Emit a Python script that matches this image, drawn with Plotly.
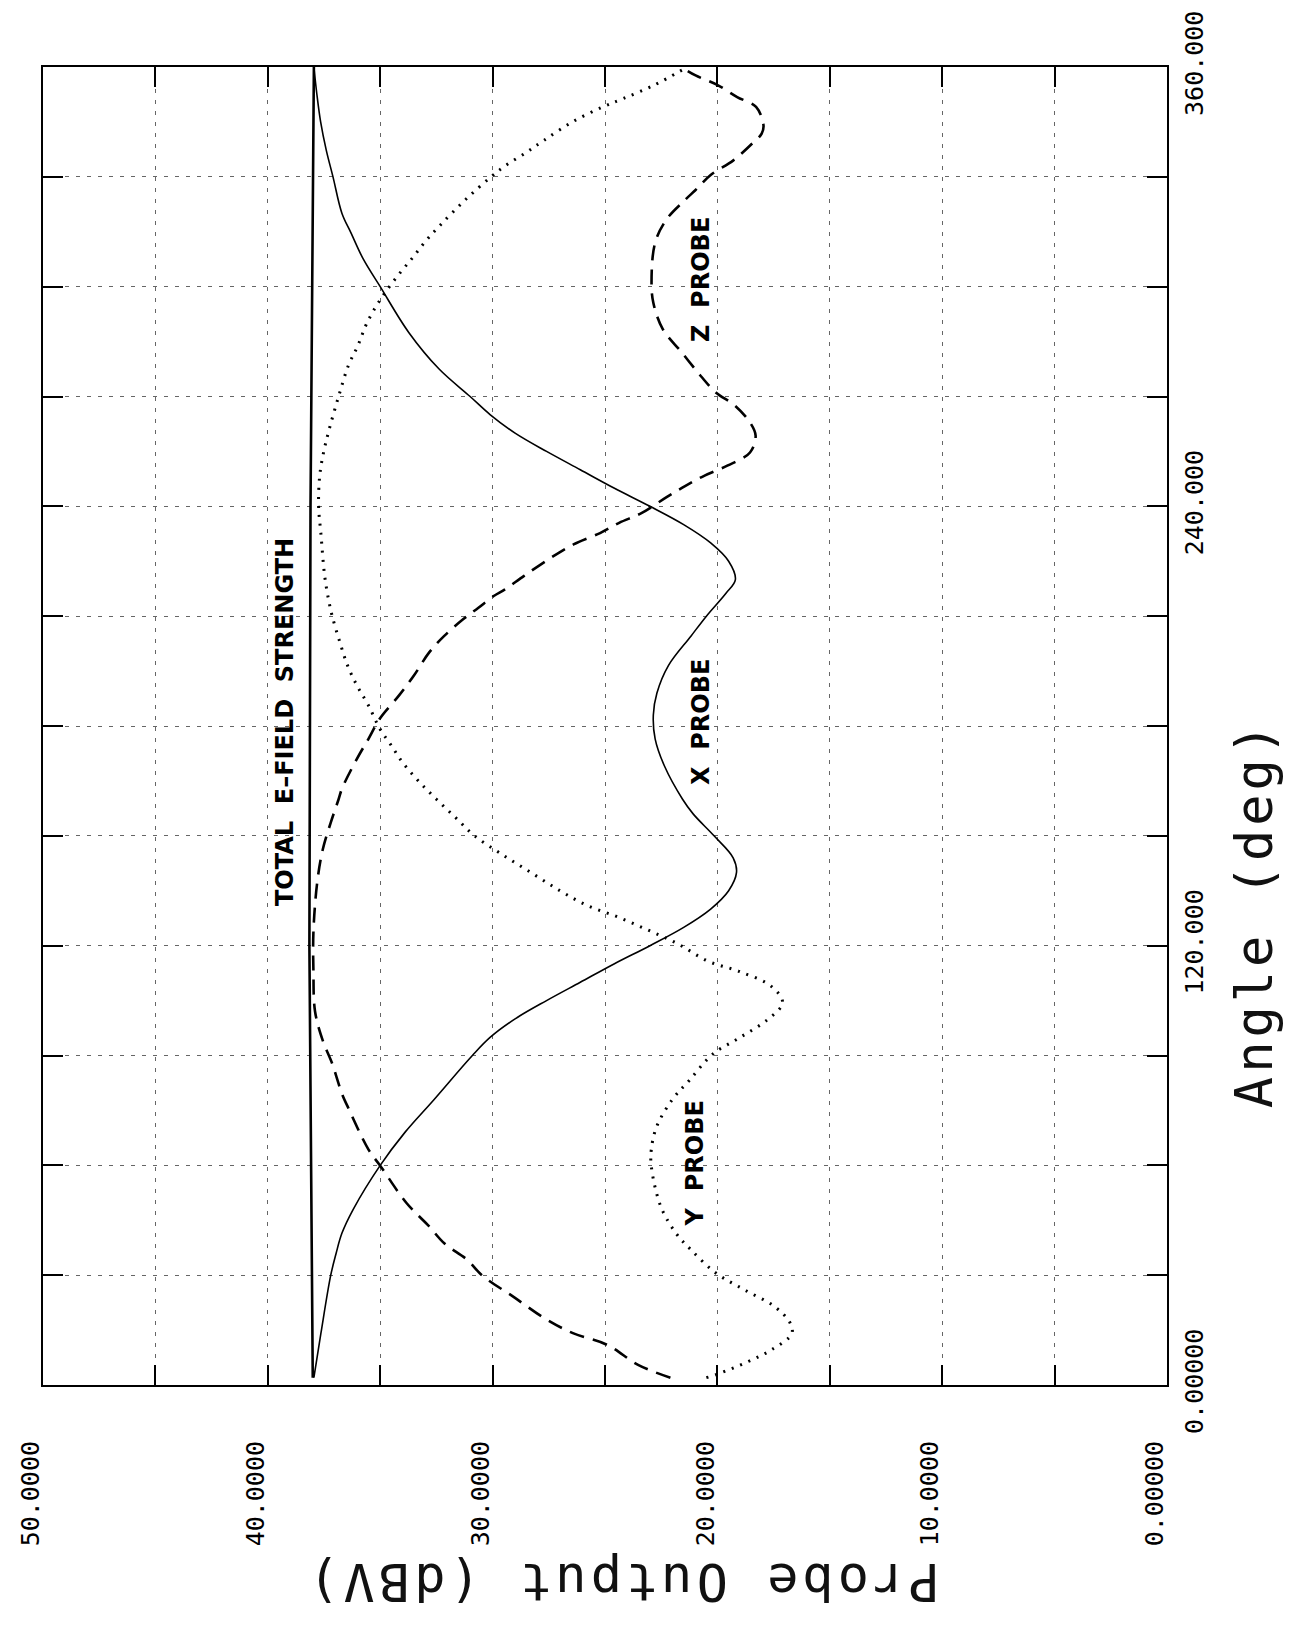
import plotly.graph_objects as go

# ---------------- data (angle in degrees, probe output in dBV) ----------------
total_angle = [2, 120, 240, 360]
total_db = [38.0, 38.15, 38.1, 37.95]

x_angle = [2, 14, 30, 36, 41.5, 48, 60, 69, 78, 90, 95, 100, 105, 110, 115, 120, 125, 130, 135,
           140, 144, 150, 156, 160, 169, 176.5, 183, 189, 196.5, 204.6, 210, 216.4, 220, 225,
           230, 235, 240, 245, 250, 255, 260, 265, 270, 277.5, 287.5, 300, 307.5, 314.7, 320,
           330, 337.3, 345, 352.7, 360]
x_db = [37.95, 37.64, 37.2, 36.96, 36.7, 36.2, 35.0, 33.9, 32.6, 30.9, 30.1, 29.0, 27.6, 26.1,
        24.6, 23.0, 21.5, 20.3, 19.5, 19.15, 19.3, 20.15, 21.08, 21.55, 22.35, 22.77, 22.85,
        22.69, 22.18, 21.17, 20.49, 19.6, 19.2, 19.5, 20.3, 21.5, 23.0, 24.6, 26.1, 27.6, 29.0,
        30.1, 31.0, 32.38, 33.73, 35.0, 35.75, 36.3, 36.7, 37.1, 37.4, 37.65, 37.82, 37.95]

y_angle = [2, 3, 6.4, 9.6, 14, 17, 21.4, 26, 30.6, 36.9, 41.5, 48.8, 59.7, 64.3, 70.6, 78, 83.2,
           90.4, 94.9, 99.9, 104.4, 108.9, 113, 115.7, 120.5, 124.3, 127.9, 131, 135, 140, 145,
           150, 155, 160, 165, 170, 174.7, 179.3, 185.6, 191, 196.5, 202.8, 209.9, 214.6, 221,
           232.7, 240, 248.4, 254.7, 261, 270, 278.4, 283.8, 290.2, 296.5, 302.9, 307.9, 312.5,
           317, 323.8, 330, 333.2, 336.8, 340, 345, 349.1, 351.4, 355, 359.5]
y_db = [20.49, 19.98, 18.63, 17.6, 16.69, 16.77, 17.45, 18.8, 20.07, 21.17, 21.85, 22.52, 22.94,
        22.94, 22.7, 22.0, 21.25, 20.2, 19.0, 17.75, 17.1, 17.6, 19.05, 20.4, 21.76, 23.1, 24.46,
        25.8, 27.0, 28.3, 29.6, 30.8, 31.65, 32.5, 33.3, 34.0, 34.51, 35.02, 35.52, 36.03, 36.45,
        36.79, 37.13, 37.3, 37.47, 37.64, 37.74, 37.69, 37.52, 37.27, 36.85, 36.42, 36.0, 35.58,
        34.99, 34.23, 33.56, 32.97, 32.3, 31.2, 30.07, 29.39, 28.47, 27.71, 26.45, 25.1, 24.18,
        22.83, 21.48]

z_angle = [2, 5.5, 10.9, 14.1, 17.8, 24.2, 29.9, 34.2, 38.7, 43.3, 49.7, 59.9, 64.3, 76.1, 79.5,
           87.7, 94, 102.1, 113, 123.8, 137.4, 146.4, 153.6, 160, 162.9, 171.1, 176.5, 182, 188.3,
           193.8, 200.1, 204.6, 209.2, 212.3, 215.5, 217.3, 221, 225.9, 229.6, 232.7, 235.5,
           238.2, 242.5, 245.6, 248.4, 251.1, 254.7, 259.3, 262.9, 267.5, 271.1, 275.6, 282,
           288.4, 295.6, 301.1, 312, 318.4, 323.8, 326.4, 330.5, 334.5, 339.1, 341.8, 344.1,
           349.1, 351.8, 355, 357.7, 359.5]
z_db = [22.09, 23.53, 24.88, 26.4, 27.58, 29.1, 30.46, 31.13, 32.15, 32.82, 33.83, 35.0, 35.52,
        36.45, 36.7, 37.13, 37.55, 37.9, 37.97, 37.97, 37.8, 37.55, 37.2, 36.85, 36.7, 36.03,
        35.52, 35.02, 34.17, 33.5, 32.82, 32.15, 31.3, 30.63, 29.95, 29.45, 28.6, 27.42, 26.4,
        25.22, 24.37, 23.36, 22.26, 21.42, 20.57, 19.56, 18.55, 18.3, 18.55, 19.22, 20.07, 20.74,
        21.58, 22.43, 22.85, 22.93, 22.77, 22.26, 21.42, 20.97, 20.3, 19.29, 18.45, 18.03, 17.95,
        18.28, 19.12, 19.97, 20.97, 21.48]

db_tick_vals = [0, 5, 10, 15, 20, 25, 30, 35, 40, 45, 50]
db_tick_text = ["0.00000", "", "10.0000", "", "20.0000", "", "30.0000", "", "40.0000", "", "50.0000"]
angle_tick_vals = [0, 30, 60, 90, 120, 150, 180, 210, 240, 270, 300, 330, 360]
angle_tick_text = ["0.00000", "", "", "", "120.000", "", "", "", "240.000", "", "", "", "360.000"]

curve_labels = ["TOTAL  E\u2013FIELD  STRENGTH", "X  PROBE", "Y  PROBE", "Z  PROBE"]
label_db = [39.2, 20.7, 21.0, 20.7]
label_angle = [181, 181, 60.5, 302]

# ---------------- figure ----------------
fig = go.Figure()
fig.add_trace(go.Scatter(x=total_db, y=total_angle, mode="lines",
                         line=dict(color="black", width=2.6), name="total"))
fig.add_trace(go.Scatter(x=x_db, y=x_angle, mode="lines", line_shape="spline",
                         line=dict(color="black", width=1.6), name="x"))
fig.add_trace(go.Scatter(x=y_db, y=y_angle, mode="lines", line_shape="spline",
                         line=dict(color="black", width=3, dash="2px,7px"), name="y"))
fig.add_trace(go.Scatter(x=z_db, y=z_angle, mode="lines", line_shape="spline",
                         line=dict(color="black", width=2.6, dash="15px,9px"), name="z"))

tick_font = dict(family="DejaVu Sans Mono", size=25, color="black")
fig.update_xaxes(range=[50, 0], tickmode="array", tickvals=db_tick_vals, ticktext=db_tick_text,
                 tickangle=-90, tickfont=tick_font, ticks="inside", ticklen=20, tickwidth=1.5,
                 tickcolor="black", showline=True, linecolor="black", linewidth=2, mirror="ticks",
                 showgrid=True, gridcolor="#666", gridwidth=1, griddash="4px,7px",
                 zeroline=False, ticklabelstandoff=44, ticklabelshift=12)
fig.update_yaxes(range=[0, 360], side="right", tickmode="array", tickvals=angle_tick_vals,
                 ticktext=angle_tick_text, tickangle=-90, tickfont=tick_font, ticks="inside",
                 ticklen=20, tickwidth=1.5, tickcolor="black", showline=True, linecolor="black",
                 linewidth=2, mirror="ticks", showgrid=True, gridcolor="#666", gridwidth=1,
                 griddash="4px,7px", zeroline=False, ticklabelstandoff=4)

for txt, xd, yd in zip(curve_labels, label_db, label_angle):
    fig.add_annotation(x=xd, y=yd, xref="x", yref="y", text="<b>" + txt + "</b>", textangle=-90,
                       showarrow=False, font=dict(family="DejaVu Sans", size=24, color="black"))

title_font = dict(family="DejaVu Sans Mono", size=52, color="#111", weight=300)
fig.add_annotation(x=0.515, y=-0.15, xref="paper", yref="paper",
                   text='<span style="letter-spacing:4px">Probe Output (dBV)</span>',
                   textangle=180, showarrow=False, font=title_font, xanchor="center", yanchor="middle")
fig.add_annotation(x=1.078, y=0.357, xref="paper", yref="paper",
                   text='<span style="letter-spacing:4px">Angle (deg)</span>',
                   textangle=-90, showarrow=False, font=title_font, xanchor="center", yanchor="middle")

fig.update_layout(width=1294, height=1625, margin=dict(l=43, r=127, t=67, b=240),
                  paper_bgcolor="white", plot_bgcolor="white", showlegend=False)

fig.write_html("out.html")
